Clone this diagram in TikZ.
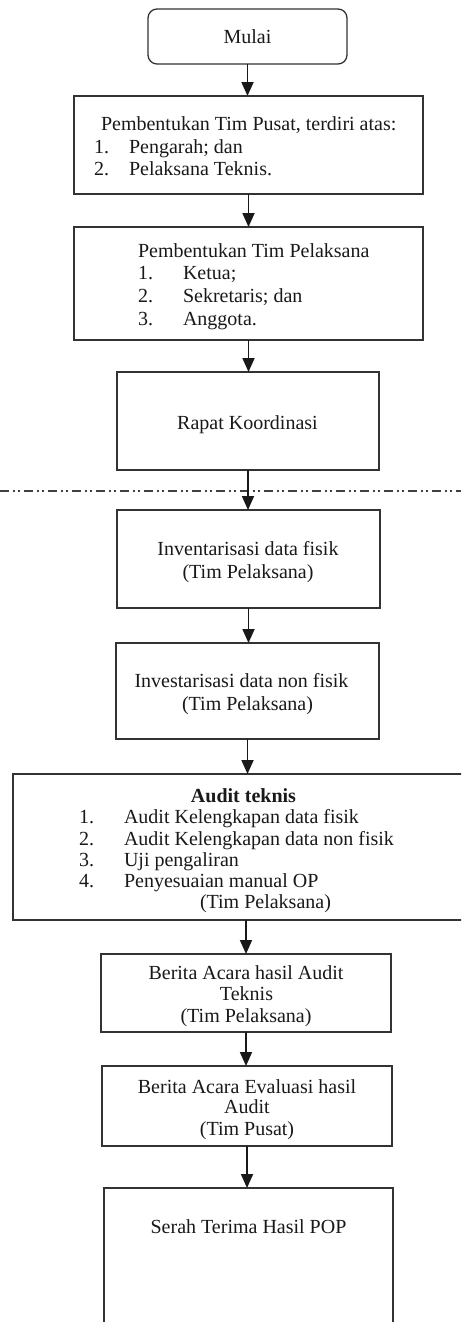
\documentclass[tikz,border=0pt]{standalone}
\usepackage{fontspec}
\setmainfont{Liberation Serif}
\usetikzlibrary{arrows.meta}
\tikzset{
  box/.style={draw=black!80, line width=1.3pt, inner sep=0pt, outer sep=0pt, rectangle},
  startbox/.style={box, rounded corners=9pt},
  txt/.style={inner sep=0pt, outer sep=0pt, font=\fontsize{20}{22.5}\selectfont, text=black!90},
  arr/.style={draw=black!90, line width=1.8pt, -{Triangle[width=12pt,length=14pt]}},
  sepline/.style={draw=black!75, line width=1.8pt, dash pattern=on 9pt off 3.5pt on 2pt off 3pt on 2pt off 4.5pt}
}
\begin{document}
\begin{tikzpicture}[x=1pt,y=-1pt]
\clip (0,0) rectangle (461,1322);
\fill[white] (0,0) rectangle (461,1322);

% boxes
\node[startbox, minimum width=199pt, minimum height=55pt] (mulai) at (247.5,36.5) {};
\node[box, minimum width=349pt, minimum height=98pt] (b2) at (248.5,145) {};
\node[box, minimum width=349pt, minimum height=113pt] (b3) at (248.5,283.5) {};
\node[box, minimum width=262pt, minimum height=98pt] (rapat) at (248,421) {};
\node[box, minimum width=263pt, minimum height=98pt] (inv1) at (248.5,559) {};
\node[box, minimum width=263pt, minimum height=96pt] (inv2) at (247.5,691) {};
\node[box, minimum width=467pt, minimum height=146pt] (audit) at (246.5,847) {};
\node[box, minimum width=290pt, minimum height=78pt] (ba1) at (246,993) {};
\node[box, minimum width=290pt, minimum height=80pt] (ba2) at (247,1106) {};
\node[box, minimum width=289pt, minimum height=157pt] (serah) at (248.5,1266.5) {};

% texts
\node[txt, anchor=base] (tmulai) at (247.5,44) {Mulai};

\node[txt, anchor=base west] (t2a) at (101,130) {Pembentukan Tim Pusat, terdiri atas:};
\node[txt, anchor=base west] (t2b) at (94,153) {1.};
\node[txt, anchor=base west] (t2c) at (129,153) {Pengarah; dan};
\node[txt, anchor=base west] (t2d) at (94,175) {2.};
\node[txt, anchor=base west] (t2e) at (129,175) {Pelaksana Teknis.};

\node[txt, anchor=base west] (t3a) at (138,257) {Pembentukan Tim Pelaksana};
\node[txt, anchor=base west] (t3b) at (138,279) {1.};
\node[txt, anchor=base west] (t3c) at (183,279) {Ketua;};
\node[txt, anchor=base west] (t3d) at (138,302) {2.};
\node[txt, anchor=base west] (t3e) at (183,302) {Sekretaris; dan};
\node[txt, anchor=base west] (t3f) at (138,325) {3.};
\node[txt, anchor=base west] (t3g) at (183,325) {Anggota.};

\node[txt, anchor=base] (trapat) at (247.5,429) {Rapat Koordinasi};

\node[txt, anchor=base] (ti1a) at (248,555) {Inventarisasi data fisik};
\node[txt, anchor=base] (ti1b) at (248,578) {(Tim Pelaksana)};

\node[txt, anchor=base] (ti2a) at (241.5,687) {Investarisasi data non fisik};
\node[txt, anchor=base] (ti2b) at (247.5,710) {(Tim Pelaksana)};

\node[txt, anchor=base, font=\fontsize{20}{22.5}\selectfont\bfseries] (tau) at (243.5,802) {Audit teknis};
\node[txt, anchor=base west] (tau1n) at (79,823) {1.};
\node[txt, anchor=base west] (tau1) at (124,823) {Audit Kelengkapan data fisik};
\node[txt, anchor=base west] (tau2n) at (79,845) {2.};
\node[txt, anchor=base west] (tau2) at (124,845) {Audit Kelengkapan data non fisik};
\node[txt, anchor=base west] (tau3n) at (79,866) {3.};
\node[txt, anchor=base west] (tau3) at (124,866) {Uji pengaliran};
\node[txt, anchor=base west] (tau4n) at (79,887) {4.};
\node[txt, anchor=base west] (tau4) at (124,887) {Penyesuaian manual OP};
\node[txt, anchor=base west] (tau5) at (200,908) {(Tim Pelaksana)};

\node[txt, anchor=base] (tb1a) at (246,979) {Berita Acara hasil Audit};
\node[txt, anchor=base] (tb1b) at (246.5,1000) {Teknis};
\node[txt, anchor=base] (tb1c) at (246,1022) {(Tim Pelaksana)};

\node[txt, anchor=base] (tb2a) at (247,1093) {Berita Acara Evaluasi hasil};
\node[txt, anchor=base] (tb2b) at (247,1113) {Audit};
\node[txt, anchor=base] (tb2c) at (247,1135) {(Tim Pusat)};

\node[txt, anchor=base] (tserah) at (248.5,1233) {Serah Terima Hasil POP};

% separator line
\coordinate (sl) at (0,491);
\coordinate (sr) at (461,491);
\draw[sepline] (sl) -- (sr);

% arrows
\draw[arr] (mulai.south) -- (mulai.south |- b2.north);
\draw[arr] (b2.south) -- (b2.south |- b3.north);
\draw[arr] (b3.south) -- (b3.south |- rapat.north);
\draw[arr] (rapat.south) -- (rapat.south |- inv1.north);
\draw[arr] (inv1.south) -- (inv1.south |- inv2.north);
\draw[arr] (inv2.south) -- (inv2.south |- audit.north);
\draw[arr] (ba1.north |- audit.south) -- (ba1.north);
\draw[arr] (ba1.south) -- (ba1.south |- ba2.north);
\draw[arr] (ba2.south) -- (ba2.south |- serah.north);
\end{tikzpicture}
\end{document}
